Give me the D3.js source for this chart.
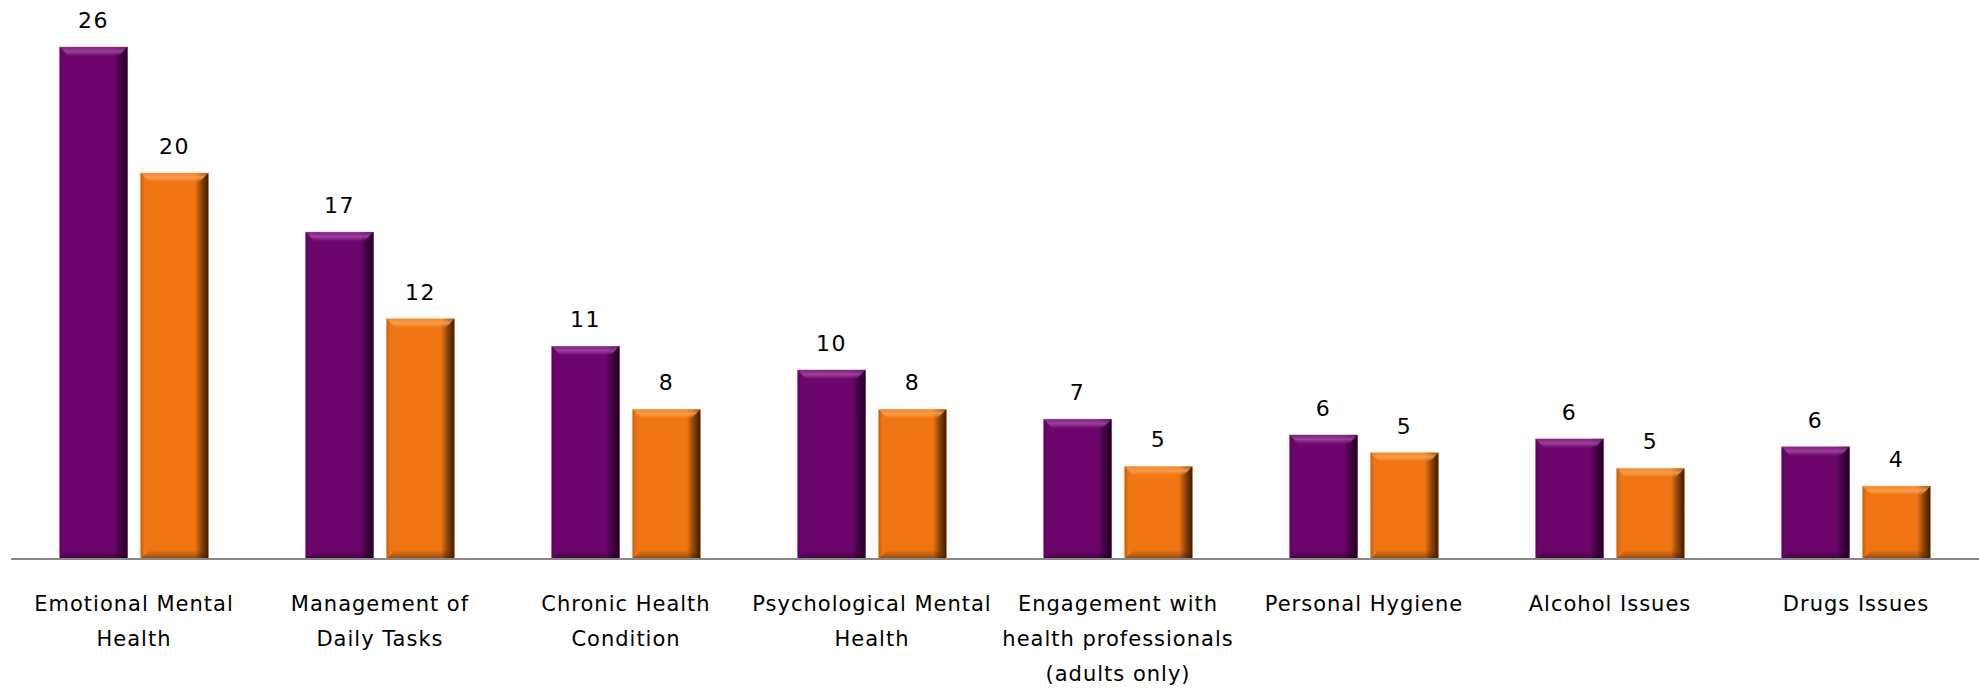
<!DOCTYPE html>
<html>
<head>
<meta charset="utf-8">
<script src="https://cdn.jsdelivr.net/npm/d3@7"></script>
<style>
  html, body { margin: 0; padding: 0; background: #fff; }
  svg { display: block; }
</style>
</head>
<body>
<svg id="chart" width="1979" height="689"></svg>
<script>
const categories = [
  ["Emotional Mental", "Health"],
  ["Management of", "Daily Tasks"],
  ["Chronic Health", "Condition"],
  ["Psychological Mental", "Health"],
  ["Engagement with", "health professionals", "(adults only)"],
  ["Personal Hygiene"],
  ["Alcohol Issues"],
  ["Drugs Issues"]
];
const seriesNames = ["Series A", "Series B"];
const seriesA = [26.0, 16.6, 10.8, 9.6, 7.1, 6.3, 6.1, 5.7];
const seriesB = [19.6, 12.2, 7.6, 7.6, 4.7, 5.4, 4.6, 3.7];
const colors = ["#6C066C", "#F07614"];
const darkColors = ["#1E001E", "#3A1A00"];
const lightColors = ["#A045A0", "#F8A050"];

const W = 1979, H = 689;
const baseY = 559, topY = 47;
const svg = d3.select("#chart");
const catKeys = categories.map((c, i) => "c" + i);

const x0 = d3.scaleBand().domain(catKeys).range([11, 1979]).padding(0);
const x1 = d3.scaleBand().domain(seriesNames).range([0, x0.bandwidth()])
  .paddingInner(0.16).paddingOuter(0.6);
const y = d3.scaleLinear().domain([0, 26.0]).range([baseY, topY]);

const data = [];
catKeys.forEach((k, i) => {
  data.push({ cat: k, s: 0, v: seriesA[i] });
  data.push({ cat: k, s: 1, v: seriesB[i] });
});

const defs = svg.append("defs");
[0, 1].forEach(s => {
  const gH = defs.append("linearGradient").attr("id", "gh" + s)
    .attr("x1", 0).attr("x2", 1).attr("y1", 0).attr("y2", 0);
  gH.append("stop").attr("offset", "0").attr("stop-color", darkColors[s]).attr("stop-opacity", 0.25);
  gH.append("stop").attr("offset", "0.06").attr("stop-color", darkColors[s]).attr("stop-opacity", 0);
  gH.append("stop").attr("offset", "0.8").attr("stop-color", darkColors[s]).attr("stop-opacity", 0);
  gH.append("stop").attr("offset", "0.9").attr("stop-color", darkColors[s]).attr("stop-opacity", 0.55);
  gH.append("stop").attr("offset", "1").attr("stop-color", darkColors[s]).attr("stop-opacity", 1);

  const gT = defs.append("linearGradient").attr("id", "gt" + s)
    .attr("x1", 0).attr("x2", 0).attr("y1", 0).attr("y2", 1);
  gT.append("stop").attr("offset", "0").attr("stop-color", lightColors[s]).attr("stop-opacity", 0.4);
  gT.append("stop").attr("offset", "0.5").attr("stop-color", lightColors[s]).attr("stop-opacity", 0.9);
  gT.append("stop").attr("offset", "1").attr("stop-color", lightColors[s]).attr("stop-opacity", 0);

  const gB = defs.append("linearGradient").attr("id", "gb" + s)
    .attr("x1", 0).attr("x2", 0).attr("y1", 0).attr("y2", 1);
  gB.append("stop").attr("offset", "0").attr("stop-color", darkColors[s]).attr("stop-opacity", 0);
  gB.append("stop").attr("offset", "1").attr("stop-color", darkColors[s]).attr("stop-opacity", 0.5);
});

const bars = svg.append("g").selectAll("g.bar").data(data).join("g").attr("class", "bar")
  .attr("transform", d => `translate(${x0(d.cat) + x1(seriesNames[d.s])},0)`);
const bw = x1.bandwidth();

bars.append("rect")
  .attr("x", 0).attr("y", d => y(d.v)).attr("width", bw).attr("height", d => baseY - y(d.v))
  .attr("fill", d => colors[d.s]);
bars.append("rect")
  .attr("x", 0).attr("y", d => y(d.v)).attr("width", bw).attr("height", d => baseY - y(d.v))
  .attr("fill", d => `url(#gh${d.s})`);
bars.append("path")
  .attr("d", d => {
    const t = y(d.v), b = 9;
    return `M0,${t} L${bw},${t} L${bw - b},${t + b} L${b},${t + b} Z`;
  })
  .attr("fill", d => `url(#gt${d.s})`);
bars.append("path")
  .attr("d", d => {
    const b = 9;
    return `M${b},${baseY - b} L${bw - b},${baseY - b} L${bw},${baseY} L0,${baseY} Z`;
  })
  .attr("fill", d => `url(#gb${d.s})`);
bars.append("rect")
  .attr("x", 0).attr("y", d => y(d.v)).attr("width", bw).attr("height", d => baseY - y(d.v))
  .attr("fill", "none").attr("stroke", d => lightColors[d.s]).attr("stroke-opacity", 0.35).attr("stroke-width", 1);

const fmt = d3.format(".0f");
svg.append("g").selectAll("text").data(data).join("text")
  .attr("x", d => x0(d.cat) + x1(seriesNames[d.s]) + bw / 2)
  .attr("y", d => y(d.v) - 19)
  .attr("text-anchor", "middle")
  .attr("font-family", "DejaVu Sans, Verdana, sans-serif")
  .attr("font-size", 22)
  .attr("letter-spacing", 1.5)
  .attr("fill", "#000")
  .text(d => fmt(d.v));

svg.append("line")
  .attr("x1", 11).attr("x2", 1979).attr("y1", baseY).attr("y2", baseY)
  .attr("stroke", "#888").attr("stroke-width", 2);

const lab = svg.append("g").selectAll("text").data(categories).join("text")
  .attr("x", (d, i) => x0(catKeys[i]) + x0.bandwidth() / 2)
  .attr("y", 611)
  .attr("text-anchor", "middle")
  .attr("font-family", "DejaVu Sans, Verdana, sans-serif")
  .attr("font-size", 21)
  .attr("letter-spacing", 1)
  .attr("fill", "#000");
lab.selectAll("tspan").data(d => d).join("tspan")
  .attr("x", function () { return d3.select(this.parentNode).attr("x"); })
  .attr("dy", (d, i) => i === 0 ? 0 : 35)
  .text(d => d);
</script>
</body>
</html>
